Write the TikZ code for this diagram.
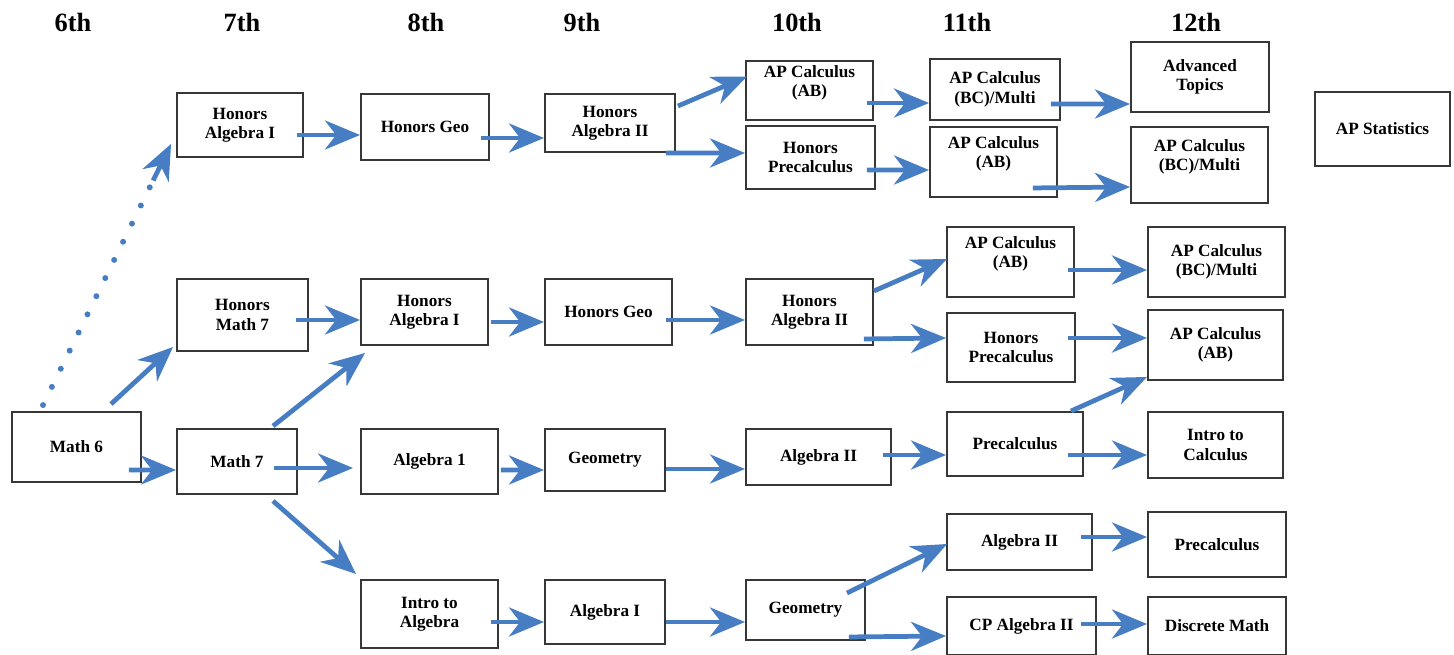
\documentclass[tikz,border=0pt]{standalone}
\usepackage{fontspec}
\setmainfont{Liberation Serif}
\usetikzlibrary{arrows.meta,positioning,calc}

\definecolor{flowblue}{RGB}{70,125,195}
\definecolor{boxgray}{RGB}{55,55,55}

\begin{document}
\begin{tikzpicture}[
	%	style def
    x=0.02cm, y=-0.02cm,
    box/.style={draw=boxgray, line width=1.1pt, rectangle, align=center,
        font=\bfseries\fontsize{9.8}{11}\selectfont, inner sep=2pt},
    grade/.style={font=\bfseries\fontsize{15}{18}\selectfont},
    flow/.style={draw=flowblue, line width=2.7pt,
        -{Stealth[length=0.7cm, width=0.58cm, inset=0.22cm]}},
    maybe/.style={draw=flowblue, line width=3.4pt, line cap=round, dash pattern=on 0pt off 11.5pt}
    ]
    \useasboundingbox (0,0) rectangle (1454,655);

    % grade headers
    \node[grade] (g6) at (73,22) {6th};
    \node[grade] (g7) at (242,22) {7th};
    \node[grade] (g8) at (426,22) {8th};
    \node[grade] (g9) at (582,22) {9th};
    \node[grade] (g10) at (797,22) {10th};
    \node[grade] (g11) at (967,22) {11th};
    \node[grade] (g12) at (1196,22) {12th};

    % 6th and 7th
    \node[box, minimum width=2.58cm, minimum height=1.40cm] (m6) at (76.5,447) {Math 6};
    \node[box, minimum width=2.52cm, minimum height=1.28cm] (ha7) at (240,125) {Honors\\Algebra I};
    \node[box, minimum width=2.62cm, minimum height=1.44cm] (hm7) at (242.5,315) {Honors\\Math 7};
    \node[box, minimum width=2.40cm, minimum height=1.30cm] (m7) at (237,461.5) {Math 7};

    % 8th
    \node[box, minimum width=2.56cm, minimum height=1.32cm] (hg8) at (425,127) {Honors Geo};
    \node[box, minimum width=2.54cm, minimum height=1.32cm] (ha8) at (424.5,312) {Honors\\Algebra I};
    \node[box, minimum width=2.74cm, minimum height=1.30cm] (a18) at (429.5,461.5) {Algebra 1};
    \node[box, minimum width=2.74cm, minimum height=1.36cm] (ia8) at (429.5,614) {Intro to\\Algebra};

    % 9th
    \node[box, minimum width=2.60cm, minimum height=1.16cm] (hb9) at (610,123) {Honors\\Algebra II};
    \node[box, minimum width=2.54cm, minimum height=1.32cm] (hg9) at (608.5,312) {Honors Geo};
    \node[box, minimum width=2.40cm, minimum height=1.24cm] (ge9) at (605,460) {Geometry};
    \node[box, minimum width=2.40cm, minimum height=1.28cm] (a19) at (605,612) {Algebra I};

    % 10th
    \node[box, minimum width=2.54cm, minimum height=1.18cm] (ab10) at (809.5,90.5) {AP Calculus\\(AB)\\ \mbox{}};
    \node[box, minimum width=2.58cm, minimum height=1.26cm] (hp10) at (810.5,157.5) {Honors\\Precalculus};
    \node[box, minimum width=2.54cm, minimum height=1.32cm] (hb10) at (809.5,312) {Honors\\Algebra II};
    \node[box, minimum width=2.90cm, minimum height=1.12cm] (a210) at (818.5,457) {Algebra II};
    \node[box, minimum width=2.38cm, minimum height=1.20cm] (ge10) at (805.5,610) {Geometry};

    % 11th
    \node[box, minimum width=2.60cm, minimum height=1.22cm] (bc11) at (995,89.5) {AP Calculus\\(BC)/Multi};
    \node[box, minimum width=2.54cm, minimum height=1.40cm] (ab11) at (993.5,162) {AP Calculus\\(AB)\\ \mbox{}};
    \node[box, minimum width=2.54cm, minimum height=1.40cm] (ab11b) at (1010.5,262) {AP Calculus\\(AB)\\ \mbox{}};
    \node[box, minimum width=2.56cm, minimum height=1.38cm] (hp11) at (1011,347.5) {Honors\\Precalculus};
    \node[box, minimum width=2.72cm, minimum height=1.28cm] (pc11) at (1015,444) {Precalculus};
    \node[box, minimum width=2.90cm, minimum height=1.12cm] (a211) at (1019.5,542) {Algebra II};
    \node[box, minimum width=2.98cm, minimum height=1.16cm] (cp11) at (1021.5,626) {CP Algebra II};

    % 12th
    \node[box, minimum width=2.76cm, minimum height=1.40cm] (at12) at (1200,77) {Advanced\\Topics};
    \node[box, minimum width=2.74cm, minimum height=1.52cm] (bc12) at (1199.5,165) {AP Calculus\\(BC)/Multi\\ \mbox{}};
    \node[box, minimum width=2.70cm, minimum height=1.48cm] (st) at (1382.5,129) {AP Statistics};
    \node[box, minimum width=2.74cm, minimum height=1.40cm] (bc12b) at (1216.5,262) {AP Calculus\\(BC)/Multi};
    \node[box, minimum width=2.70cm, minimum height=1.40cm] (ab12) at (1215.5,345) {AP Calculus\\(AB)};
    \node[box, minimum width=2.70cm, minimum height=1.32cm] (ic12) at (1215.5,445) {Intro to\\Calculus};
    \node[box, minimum width=2.76cm, minimum height=1.30cm] (pc12) at (1217,544.5) {Precalculus};
    \node[box, minimum width=2.76cm, minimum height=1.16cm] (dm12) at (1217,626) {Discrete Math};

    % paths out of 6th and 7th
    \coordinate (d0) at ([shift={(-33.5,-6)}]m6.north);
    \coordinate (d1) at ([shift={(-5,-14)}]ha7.south west);
    \draw[maybe] (d0) -- ($(d0)!0.86!(d1)$);
    \draw[flow] ($(d0)!0.86!(d1)$) -- (d1);
    \draw[flow] ([shift={(34.5,-7)}]m6.north) -- ([shift={(-3,-5)}]hm7.south west);
    \draw[flow] ([shift={(-13,23)}]m6.east) -- ([shift={(0,8.5)}]m7.west);
    \draw[flow] ([shift={(-7,10)}]ha7.east) -- ([shift={(0,8)}]hg8.west);
    \draw[flow] ([shift={(-13,5)}]hm7.east) -- ([shift={(0,8)}]ha8.west);
    \draw[flow] ([shift={(36,-2)}]m7.north) -- ([shift={(5,7)}]ha8.south west);
    \draw[flow] ([shift={(-24,6.5)}]m7.east) -- ([shift={(-7,6.5)}]a18.west);
    \draw[flow] ([shift={(36,6)}]m7.south) -- ([shift={(-4,-5)}]ia8.north west);

    % 8th to 9th
    \draw[flow] ([shift={(-9,11)}]hg8.east) -- ([shift={(0,15)}]hb9.west);
    \draw[flow] ([shift={(2,10)}]ha8.east) -- ([shift={(0,10)}]hg9.west);
    \draw[flow] ([shift={(2,8.5)}]a18.east) -- ([shift={(0,10)}]ge9.west);
    \draw[flow] ([shift={(-8,8)}]ia8.east) -- ([shift={(0,10)}]a19.west);

    % 9th to 10th
    \draw[flow] ([shift={(2,-17)}]hb9.east) -- ([shift={(2,-14)}]ab10.west);
    \draw[flow] ([shift={(-10,0)}]hb9.south east) -- ([shift={(0,-4.5)}]hp10.west);
    \draw[flow] ([shift={(-7,8)}]hg9.east) -- ([shift={(0,8)}]hb10.west);
    \draw[flow] ([shift={(0,9)}]ge9.east) -- ([shift={(0,12)}]a210.west);
    \draw[flow] ([shift={(0,10)}]a19.east) -- ([shift={(0,12)}]ge10.west);

    % 10th to 11th
    \draw[flow] ([shift={(-7,12.5)}]ab10.east) -- ([shift={(0,13.5)}]bc11.west);
    \draw[flow] ([shift={(-9,12.5)}]hp10.east) -- ([shift={(0,8)}]ab11.west);
    \draw[flow] ([shift={(0,-21)}]hb10.east) -- ([shift={(1,-3)}]ab11b.west);
    \draw[flow] ([shift={(-10,-7)}]hb10.south east) -- ([shift={(0,-9.5)}]hp11.west);
    \draw[flow] ([shift={(-9,-2)}]a210.east) -- ([shift={(0,11)}]pc11.west);
    \draw[flow] ([shift={(-19,14)}]ge10.north east) -- ([shift={(1,2)}]a211.west);
    \draw[flow] ([shift={(-17,-4)}]ge10.south east) -- ([shift={(0,10)}]cp11.west);

    % 11th to 12th
    \draw[flow] ([shift={(-10,14.5)}]bc11.east) -- ([shift={(0,27)}]at12.west);
    \draw[flow] ([shift={(-25,-10)}]ab11.south east) -- ([shift={(0,22)}]bc12.west);
    \draw[flow] ([shift={(-7,8)}]ab11b.east) -- ([shift={(0,8)}]bc12b.west);
    \draw[flow] ([shift={(-8,-9.5)}]hp11.east) -- ([shift={(0,-7)}]ab12.west);
    \draw[flow] ([shift={(-13,0)}]pc11.north east) -- ([shift={(0,-4)}]ab12.south west);
    \draw[flow] ([shift={(-16,11)}]pc11.east) -- ([shift={(0,10)}]ic12.west);
    \draw[flow] ([shift={(-12,-5)}]a211.east) -- ([shift={(0,-7.5)}]pc12.west);
    \draw[flow] ([shift={(-16,-2)}]cp11.east) -- ([shift={(0,-2)}]dm12.west);

\end{tikzpicture}
\end{document}
